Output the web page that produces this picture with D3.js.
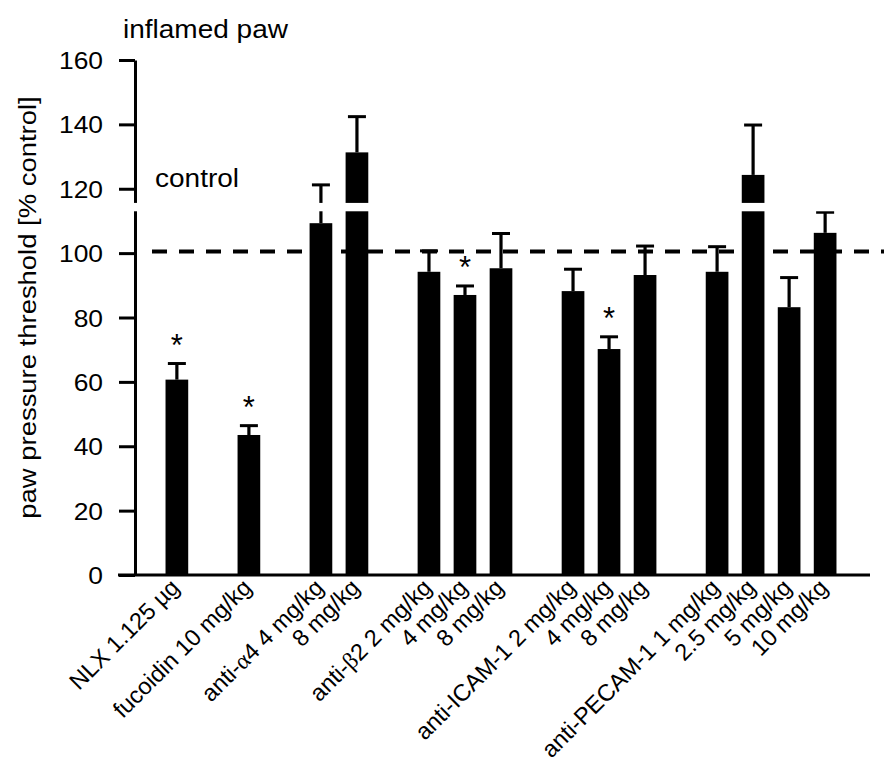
<!DOCTYPE html>
<html>
<head>
<meta charset="utf-8">
<script src="https://cdn.jsdelivr.net/npm/d3@7"></script>
<style>
  body { margin: 0; background: #fff; }
  text { font-family: "Liberation Sans", Arial, Helvetica, sans-serif; fill: #000; }
</style>
</head>
<body>
<div id="chart"></div>
<script>
// bar labels, one per bar (group prefix only on the first bar of a group)
const labels = ["NLX 1.125 µg", "fucoidin 10 mg/kg", "anti-α4 4 mg/kg", "8 mg/kg",
  "anti-β2 2 mg/kg", "4 mg/kg", "8 mg/kg", "anti-ICAM-1 2 mg/kg", "4 mg/kg", "8 mg/kg",
  "anti-PECAM-1 1 mg/kg", "2.5 mg/kg", "5 mg/kg", "10 mg/kg"];
// slot index on the x axis (empty slots separate the groups)
const slots = [0, 2, 4, 5, 7, 8, 9, 11, 12, 13, 15, 16, 17, 18];
// mean threshold [% control]
const means = [60.7, 43.5, 109.3, 131.3, 94.2, 87.0, 95.3, 88.2, 70.2, 93.2, 94.2, 124.3, 83.2, 106.3];
// upper end of the error bar
const errTops = [65.7, 46.4, 121.2, 142.4, 100.7, 89.8, 106.1, 95.0, 74.0, 102.2, 102.0, 139.8, 92.4, 112.7];
// significance star
const stars = [true, true, false, false, false, true, false, false, true, false, false, false, false, false];
const yTicks = [0, 20, 40, 60, 80, 100, 120, 140, 160];
const controlLevel = 100.5;
const axisBreak = [113, 115.6];

const W = 884, H = 765;
const svg = d3.select("#chart").append("svg")
    .attr("width", W)
    .attr("height", H);

const xScale = d3.scaleBand()
    .domain(d3.range(19))
    .range([152.2, 849.8])
    .padding(0.37);
const yScale = d3.scaleLinear()
    .domain([0, 160])
    .range([575, 60]);

const data = labels.map((l, i) => ({
    label: l, slot: slots[i], mean: means[i], err: errTops[i], star: stars[i]
}));

// Y axis
const yAxis = svg.append("g")
    .attr("transform", "translate(135,0)")
    .call(d3.axisLeft(yScale).tickValues(yTicks).tickSize(16).tickSizeOuter(0));
yAxis.select(".domain").attr("stroke-width", 3);
yAxis.selectAll(".tick line").attr("stroke-width", 3);
yAxis.selectAll(".tick text")
    .attr("x", null)
    .attr("dy", null)
    .attr("font-size", 24)
    .attr("transform", "translate(-32,8.5) scale(1.1,1)");

// X axis line
svg.append("line")
    .attr("x1", 118).attr("x2", 870)
    .attr("y1", yScale(0)).attr("y2", yScale(0))
    .attr("stroke", "#000").attr("stroke-width", 3);

// bars
const bars = svg.selectAll(".bar").data(data).enter().append("g");
bars.append("line")
    .attr("x1", d => xScale(d.slot) + xScale.bandwidth() / 2)
    .attr("x2", d => xScale(d.slot) + xScale.bandwidth() / 2)
    .attr("y1", d => yScale(d.mean))
    .attr("y2", d => yScale(d.err))
    .attr("stroke", "#000").attr("stroke-width", 3.2);
bars.append("line")
    .attr("x1", d => xScale(d.slot) + xScale.bandwidth() / 2 - 9)
    .attr("x2", d => xScale(d.slot) + xScale.bandwidth() / 2 + 9)
    .attr("y1", d => yScale(d.err))
    .attr("y2", d => yScale(d.err))
    .attr("stroke", "#000").attr("stroke-width", 3);
bars.append("rect")
    .attr("class", "bar")
    .attr("x", d => xScale(d.slot))
    .attr("y", d => yScale(d.mean))
    .attr("width", xScale.bandwidth())
    .attr("height", d => yScale(0) - yScale(d.mean))
    .attr("fill", "#000");

// stars
bars.filter(d => d.star).append("text")
    .attr("x", d => xScale(d.slot) + xScale.bandwidth() / 2)
    .attr("y", d => yScale(d.err) - 8)
    .attr("text-anchor", "middle")
    .attr("font-size", 31)
    .text("*");

// axis break: white band through axis and bars
svg.append("rect")
    .attr("x", 120).attr("width", 760)
    .attr("y", yScale(axisBreak[1]))
    .attr("height", yScale(axisBreak[0]) - yScale(axisBreak[1]))
    .attr("fill", "#fff");

// control line
svg.append("line")
    .attr("x1", 152).attr("x2", 884)
    .attr("y1", yScale(controlLevel)).attr("y2", yScale(controlLevel))
    .attr("stroke", "#000").attr("stroke-width", 4)
    .attr("stroke-dasharray", "15,12");

// x labels, rotated
const xl = svg.selectAll(".xlab").data(data).enter().append("text")
    .attr("class", "xlab")
    .attr("text-anchor", "end")
    .attr("font-size", 23.5)
    .attr("transform", d => `translate(${xScale(d.slot) + xScale.bandwidth() / 2 + 4},589) rotate(-45)`);
xl.each(function(d) {
    const t = d3.select(this);
    const parts = d.label.split(/([αβ])/);
    parts.forEach(p => {
        if (!p) return;
        const ts = t.append("tspan").text(p);
        if (p === "α" || p === "β") ts.attr("font-family", "Liberation Serif, serif");
    });
});

// titles
svg.append("text")
    .attr("transform", "translate(123,38) scale(1.12,1)")
    .attr("font-size", 25)
    .text("inflamed paw");
svg.append("text")
    .attr("transform", "translate(155,187) scale(1.12,1)")
    .attr("font-size", 25)
    .text("control");
svg.append("text")
    .attr("transform", "translate(36,307.5) rotate(-90) scale(1.12,1)")
    .attr("text-anchor", "middle")
    .attr("font-size", 24.5)
    .text("paw pressure threshold [% control]");
</script>
</body>
</html>
